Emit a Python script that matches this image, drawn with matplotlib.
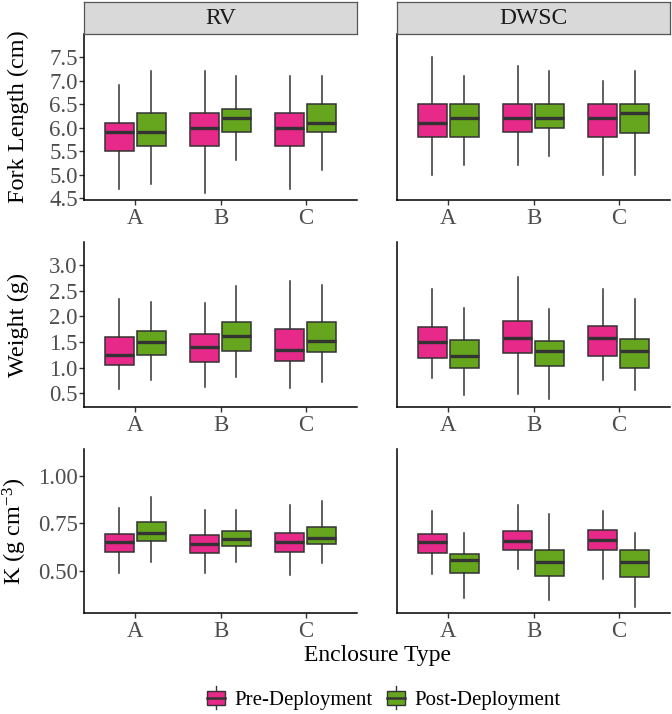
import matplotlib.pyplot as plt
from matplotlib.legend_handler import HandlerBase
from matplotlib.patches import Patch, Rectangle
from matplotlib.lines import Line2D

plt.rcParams["font.family"] = ["Liberation Serif", "DejaVu Serif"]
plt.rcParams["mathtext.fontset"] = "custom"
plt.rcParams["mathtext.rm"] = "Liberation Serif"
plt.rcParams["mathtext.it"] = "Liberation Serif:italic"

enclosures = ["A", "B", "C"]
sites = ["RV", "DWSC"]
groups = ["Pre-Deployment", "Post-Deployment"]
group_colors = ["#E7298A", "#66A61E"]

# box stats per enclosure: (whisker low, q1, median, q3, whisker high)
fl_rv_pre = [(4.7, 5.5, 5.9, 6.1, 6.9), (4.6, 5.6, 6.0, 6.3, 7.2), (4.7, 5.6, 6.0, 6.3, 7.1)]
fl_rv_post = [(4.8, 5.6, 5.9, 6.3, 7.2), (5.3, 5.9, 6.2, 6.4, 7.1), (5.1, 5.9, 6.1, 6.5, 7.1)]
fl_dwsc_pre = [(5.0, 5.8, 6.1, 6.5, 7.5), (5.2, 5.9, 6.2, 6.5, 7.3), (5.0, 5.8, 6.2, 6.5, 7.0)]
fl_dwsc_post = [(5.2, 5.8, 6.2, 6.5, 7.1), (5.4, 6.0, 6.2, 6.5, 7.2), (5.0, 5.88, 6.3, 6.5, 7.2)]

wt_rv_pre = [(0.59, 1.05, 1.25, 1.59, 2.34), (0.62, 1.10, 1.40, 1.66, 2.25), (0.60, 1.12, 1.34, 1.75, 2.69)]
wt_rv_post = [(0.75, 1.25, 1.49, 1.72, 2.28), (0.81, 1.33, 1.62, 1.88, 2.60), (0.71, 1.30, 1.52, 1.88, 2.62)]
wt_dwsc_pre = [(0.79, 1.19, 1.49, 1.79, 2.53), (0.49, 1.29, 1.58, 1.90, 2.77), (0.75, 1.23, 1.57, 1.82, 2.53)]
wt_dwsc_post = [(0.47, 0.99, 1.23, 1.53, 2.17), (0.38, 1.03, 1.33, 1.51, 2.14), (0.57, 0.99, 1.32, 1.55, 2.33)]

k_rv_pre = [(0.49, 0.600, 0.651, 0.695, 0.828), (0.49, 0.595, 0.642, 0.688, 0.82), (0.48, 0.600, 0.651, 0.700, 0.846)]
k_rv_post = [(0.546, 0.656, 0.700, 0.756, 0.89), (0.55, 0.632, 0.668, 0.710, 0.82), (0.54, 0.640, 0.675, 0.733, 0.867)]
k_dwsc_pre = [(0.486, 0.596, 0.651, 0.696, 0.814), (0.51, 0.609, 0.658, 0.710, 0.844), (0.46, 0.609, 0.661, 0.716, 0.814)]
k_dwsc_post = [(0.36, 0.49, 0.556, 0.588, 0.70), (0.35, 0.474, 0.546, 0.61, 0.80), (0.31, 0.468, 0.55, 0.609, 0.70)]

rows = [
    ("Fork Length (cm)", [[fl_rv_pre, fl_rv_post], [fl_dwsc_pre, fl_dwsc_post]],
     (4.46, 7.99), [4.5, 5.0, 5.5, 6.0, 6.5, 7.0, 7.5], "{:.1f}"),
    ("Weight (g)", [[wt_rv_pre, wt_rv_post], [wt_dwsc_pre, wt_dwsc_post]],
     (0.23, 3.45), [0.5, 1.0, 1.5, 2.0, 2.5, 3.0], "{:.1f}"),
    (r"K (g cm$^{-3}$)", [[k_rv_pre, k_rv_post], [k_dwsc_pre, k_dwsc_post]],
     (0.28, 1.14), [0.5, 0.75, 1.0], "{:.2f}"),
]

W, H = 672, 714
fig = plt.figure(figsize=(W / 100, H / 100), dpi=100)

col_x = [84, 397]
col_w = 273
row_y = [(34, 200), (242, 407), (449, 613)]
edge = "#333333"
tick_grey = "#4D4D4D"

for r, (ylabel, data, ylim, yticks, fmt) in enumerate(rows):
    top, bot = row_y[r]
    for c in range(2):
        ax = fig.add_axes([col_x[c] / W, 1 - bot / H, col_w / W, (bot - top) / H])
        for g in range(2):
            stats = [dict(whislo=s[0], q1=s[1], med=s[2], q3=s[3], whishi=s[4])
                     for s in data[c][g]]
            pos = [i + 1 + (g - 0.5) * 0.375 for i in range(3)]
            ax.bxp(stats, positions=pos, widths=0.3375, patch_artist=True,
                   showfliers=False, showcaps=False,
                   boxprops=dict(facecolor=group_colors[g], edgecolor=edge, linewidth=1.1),
                   medianprops=dict(color=edge, linewidth=2.4, solid_capstyle="butt"),
                   whiskerprops=dict(color=edge, linewidth=1.1))
        ax.set_xlim(0.4, 3.6)
        ax.set_ylim(*ylim)
        ax.set_xticks([1, 2, 3])
        ax.set_xticklabels(enclosures)
        for s in ["top", "right"]:
            ax.spines[s].set_visible(False)
        for s in ["left", "bottom"]:
            ax.spines[s].set_color("black")
            ax.spines[s].set_linewidth(1.1)
        ax.tick_params(labelsize=16.5, labelcolor=tick_grey, color=edge, length=3.5, width=1)
        if c == 0:
            ax.set_yticks(yticks)
            ax.set_yticklabels([fmt.format(t) for t in yticks])
            ax.tick_params(axis="y", pad=1)
            ax.set_ylabel(ylabel, fontsize=17.5)
            ax.yaxis.set_label_coords(-55 / col_w, 0.5)
        else:
            ax.set_yticks([])
        ax.tick_params(axis="x", pad=2)

        if r == 0:
            sax = fig.add_axes([col_x[c] / W, 1 - 34 / H, col_w / W, 32 / H])
            sax.set_xticks([])
            sax.set_yticks([])
            sax.set_facecolor("#D9D9D9")
            for s in sax.spines.values():
                s.set_color("#555555")
                s.set_linewidth(0.9)
            sax.text(0.5, 0.5, sites[c], ha="center", va="center", fontsize=17,
                     color="#1A1A1A", transform=sax.transAxes)

fig.text(377 / W, 1 - 655 / H, "Enclosure Type", ha="center", va="center", fontsize=17)


class BoxKey(HandlerBase):
    def create_artists(self, legend, orig_handle, xdescent, ydescent, width, height,
                       fontsize, trans):
        cx = width / 2 - xdescent
        cy = height / 2 - ydescent
        bw, bh = width * 0.85, height * 0.85
        whisk = Line2D([cx, cx], [cy - bh * 0.85, cy + bh * 0.85], color=edge, lw=1.0,
                       transform=trans)
        box = Rectangle((cx - bw / 2, cy - bh / 2), bw, bh,
                        facecolor=orig_handle.get_facecolor(), edgecolor=edge, lw=1.0,
                        transform=trans)
        med = Line2D([cx - bw / 2, cx + bw / 2], [cy, cy], color=edge, lw=1.8, transform=trans)
        return [whisk, box, med]


handles = [Patch(facecolor=col, label=lab) for col, lab in zip(group_colors, groups)]
fig.legend(handles=handles, loc="center", bbox_to_anchor=(383 / W, 1 - 700 / H), ncol=2,
           frameon=False, fontsize=15, handler_map={Patch: BoxKey()},
           handlelength=1.0, handleheight=0.8, handletextpad=0.4, columnspacing=0.6)

fig.savefig("out.png", dpi=100)
